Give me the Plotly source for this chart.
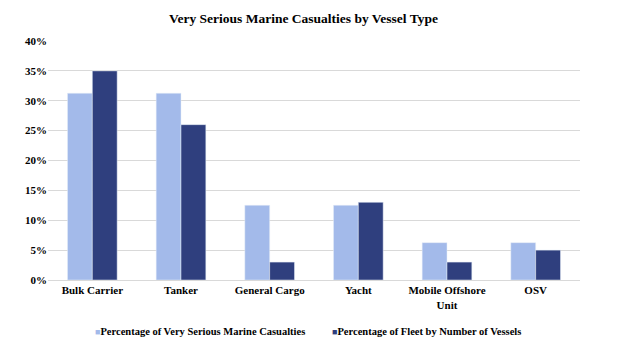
import plotly.graph_objects as go

categories = ["Bulk Carrier", "Tanker", "General Cargo", "Yacht", "Mobile Offshore<br>Unit", "OSV"]
casualties = [31.25, 31.25, 12.5, 12.5, 6.25, 6.25]
fleet = [35, 26, 3, 13, 3, 5]
series_names = ["Percentage of Very Serious Marine Casualties", "Percentage of Fleet by Number of Vessels"]
colors = ["#A3BAEA", "#2F3F7E"]
y_ticks = [0, 5, 10, 15, 20, 25, 30, 35, 40]

font = "Liberation Serif, Times New Roman, serif"

fig = go.Figure()
fig.add_trace(go.Bar(x=categories, y=casualties, name=series_names[0], marker_color=colors[0], showlegend=False))
fig.add_trace(go.Bar(x=categories, y=fleet, name=series_names[1], marker_color=colors[1], showlegend=False))

# legend drawn as text items (small square swatch + label), like the reference
plot_l, plot_r = 48, 580
legend_x_px = [93, 330]
for name, c, xp in zip(series_names, colors, legend_x_px):
    fig.add_annotation(
        text=f"<span style='color:{c};font-size:9px'>■</span><b>{name}</b>",
        xref="paper", yref="paper", x=(xp - plot_l) / (plot_r - plot_l), y=-(331 - 280) / 239,
        xanchor="left", yanchor="middle", showarrow=False,
        font=dict(family=font, size=10.5, color="black"),
    )

fig.update_layout(
    width=640, height=357,
    margin=dict(l=48, r=60, t=41, b=77, autoexpand=False),
    paper_bgcolor="white", plot_bgcolor="white",
    barmode="group", bargap=0.44, bargroupgap=0,
    showlegend=False,
    title=dict(text="<b>Very Serious Marine Casualties by Vessel Type</b>",
               x=(303.5 - plot_l) / (plot_r - plot_l), xref="paper", xanchor="center",
               y=1 - 18 / 357, yref="container", yanchor="middle",
               font=dict(family=font, size=13.5, color="black")),
    font=dict(family=font, color="black"),
    xaxis=dict(showline=True, linecolor="#D9D9D9", linewidth=1, ticks="", automargin=False,
               tickfont=dict(family=font, size=11, color="black"), tickprefix="<b>", ticksuffix="</b>"),
    yaxis=dict(range=[0, 40], tickvals=y_ticks, ticktext=[f"<b>{v}%</b>" for v in y_ticks],
               showgrid=True, gridcolor="#D9D9D9", zeroline=False, automargin=False,
               tickfont=dict(family=font, size=11, color="black"), ticks="", ticklen=0),
)

fig.write_html("out.html", config={"displayModeBar": False},
               post_script="document.body.style.margin='0';")
